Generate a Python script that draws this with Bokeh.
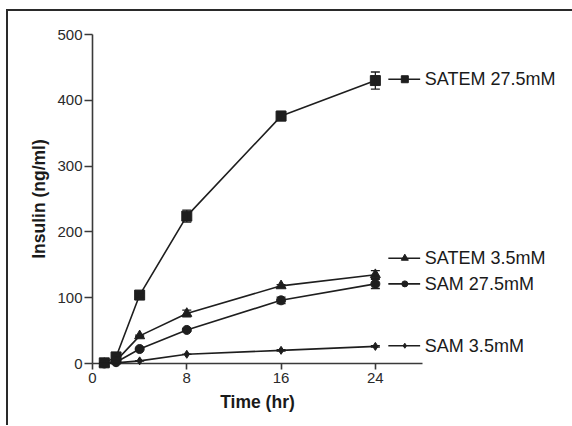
from bokeh.plotting import figure
from bokeh.models import Range1d, FixedTicker, Whisker, ColumnDataSource, TeeHead
from bokeh.core.properties import value
from bokeh.embed import file_html
from bokeh.resources import INLINE

# ---- data ----
time_hr = [1, 2, 4, 8, 16, 24]
satem_275 = [1, 10, 104, 224, 376, 430]
satem_275_err = [0, 2, 3, 9, 7, 13]
satem_35 = [0, 4, 42, 76, 118, 135]
satem_35_err = [0, 0, 1, 5, 2, 6]
sam_275 = [0, 2, 22, 51, 96, 121]
sam_275_err = [0, 0, 1, 2, 5, 7]
sam_35 = [0, 1, 4, 14, 20, 26]
sam_35_err = [0, 0, 0, 0, 1, 1]

series_names = ["SATEM 27.5mM", "SATEM 3.5mM", "SAM 27.5mM", "SAM 3.5mM"]
series_values = [satem_275, satem_35, sam_275, sam_35]
series_errors = [satem_275_err, satem_35_err, sam_275_err, sam_35_err]
series_markers = ["square", "triangle", "circle", "diamond"]
marker_sizes = [10, 10, 9, 8]
# label heights (y in ng/ml) of the right-hand series labels
label_y = [432, 160, 121, 27]
x_ticks = [0, 8, 16, 24]
y_ticks = [0, 100, 200, 300, 400, 500]

INK = "#1e1e1e"
AXIS = "#3a3a3a"

p = figure(width=566, height=416, output_backend="svg", toolbar_location=None,
           x_range=Range1d(0, 28), y_range=Range1d(0, 500),
           min_border_left=84, min_border_right=152, min_border_top=23, min_border_bottom=64)
p.margin = (9, 0, 0, 6)
p.styles = {"border-top": "2px solid #2a2a2a", "border-left": "2px solid #2a2a2a",
            "box-sizing": "border-box"}
p.outline_line_color = None
p.grid.visible = False
p.background_fill_color = "white"
p.border_fill_color = "white"

for ax in (p.xaxis[0], p.yaxis[0]):
    ax.axis_line_color = AXIS
    ax.axis_line_width = 1.6
    ax.major_tick_line_color = AXIS
    ax.major_tick_line_width = 1.6
    ax.major_tick_in = 0
    ax.minor_tick_line_color = None
    ax.major_label_text_font = "Liberation Sans"
    ax.major_label_text_font_size = "15px"
    ax.major_label_text_color = "#2a2a2a"
    ax.axis_label_text_font = "Liberation Sans"
    ax.axis_label_text_font_style = "bold"
    ax.axis_label_text_font_size = "17.5px"
    ax.axis_label_text_color = "#1a1a1a"

p.xaxis.ticker = FixedTicker(ticks=x_ticks)
p.yaxis.ticker = FixedTicker(ticks=y_ticks)
p.xaxis.major_tick_out = 6
p.yaxis.major_tick_out = 8
p.xaxis.major_label_standoff = 3
p.yaxis.major_label_standoff = 2
p.xaxis.axis_label = "Time (hr)"
p.yaxis.axis_label = "Insulin (ng/ml)"
p.xaxis.axis_label_standoff = 6
p.yaxis.axis_label_standoff = 5

leg_x0, leg_x1, leg_xm, leg_tx = 25.1, 27.8, 26.5, 28.2

for name, vals, errs, mk, ms, ly in zip(series_names, series_values, series_errors,
                                        series_markers, marker_sizes, label_y):
    src = ColumnDataSource(dict(x=time_hr, y=vals,
                                lo=[v - e for v, e in zip(vals, errs)],
                                hi=[v + e for v, e in zip(vals, errs)]))
    w = Whisker(base="x", lower="lo", upper="hi", source=src, dimension="height",
                line_color=INK, line_width=1.3, level="overlay",
                upper_head=TeeHead(size=9, line_color=INK, line_width=1.3),
                lower_head=TeeHead(size=9, line_color=INK, line_width=1.3))
    p.add_layout(w)
    p.line("x", "y", source=src, line_color=INK, line_width=1.6, level="overlay")
    p.scatter("x", "y", source=src, marker=mk, size=ms, fill_color=INK,
              line_color=INK, level="overlay")
    # right-hand label
    p.segment(x0=[leg_x0], y0=[ly], x1=[leg_x1], y1=[ly], line_color=INK,
              line_width=1.6, level="overlay")
    p.scatter(x=[leg_xm], y=[ly], marker=mk, size=ms - 3, fill_color=INK,
              line_color=INK, level="overlay")
    p.text(x=[leg_tx], y=[ly], text=[name], text_font=value("Liberation Sans"),
           text_font_size="18px", text_color="#1a1a1a", text_baseline="middle",
           text_align="left", level="overlay")

open("out.html", "w").write(file_html(p, INLINE))
